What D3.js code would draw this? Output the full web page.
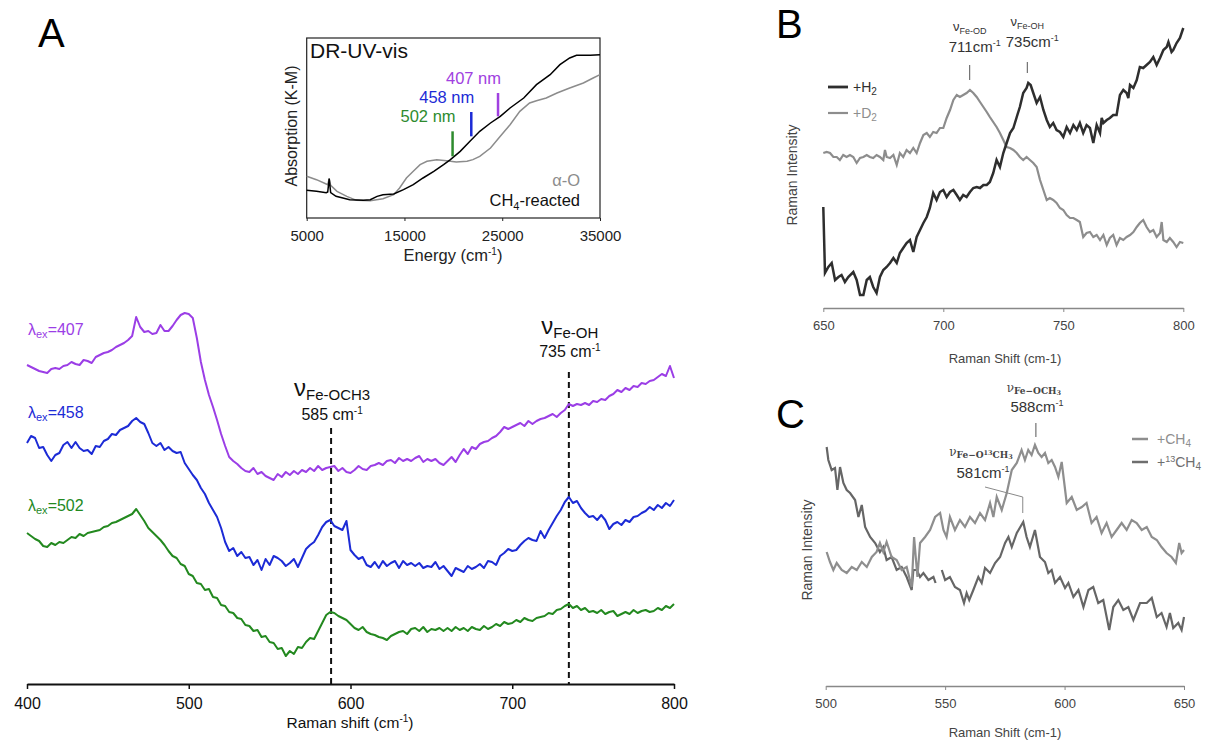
<!DOCTYPE html>
<html>
<head>
<meta charset="utf-8">
<script src="https://cdn.jsdelivr.net/npm/d3@7"></script>
<style>
  body { margin: 0; background: #fff; }
  svg { display: block; font-family: "Liberation Sans", Arial, sans-serif; }
</style>
</head>
<body>
<div id="chart"></div>
<script>
// ---- Panel A: Raman spectra, sampled every 2.5 cm-1 from 400 to 800 ----
const shiftStartA = 400;
const shiftStepA = 2.5;

const raman407 = [
  319,317,315,313,312,311,315,316,315,318,
  319,322,320,319,324,323,321,327,329,331,
  332,334,337,339,341,344,348,367,357,352,
  353,350,351,359,353,353,358,364,369,371,
  370,366,346,322,304,289,277,264,250,238,
  227,223,220,216,213,212,216,210,212,208,
  206,204,210,207,212,209,213,210,214,212,
  216,213,218,214,216,217,218,213,216,212,
  211,214,218,215,214,218,219,221,219,223,
  224,221,226,223,225,223,226,228,222,225,
  223,225,221,219,223,227,222,229,235,230,
  237,235,240,242,243,246,248,252,257,255,
  257,259,261,258,263,260,263,265,266,268,
  270,267,271,274,280,278,280,279,281,279,
  283,282,285,284,288,290,294,292,296,294,
  298,297,301,300,303,304,307,310,308,318,
  306
];

const raman458 = [
  241,248,246,236,237,229,223,229,231,239,
  242,236,242,236,233,234,230,238,237,243,
  245,250,249,254,256,258,263,266,262,260,
  251,241,238,241,234,237,233,231,232,221,
  215,209,204,196,190,181,174,167,156,142,
  133,136,128,132,126,127,119,124,114,125,
  119,128,126,123,118,121,125,117,126,135,
  139,142,149,157,162,164,158,156,154,163,
  134,129,125,127,119,117,122,116,123,118,
  121,123,116,123,119,121,118,121,116,118,
  117,122,115,118,113,108,116,114,112,118,
  115,117,120,116,123,122,119,128,131,135,
  133,134,139,143,146,144,143,153,146,154,
  161,168,174,182,187,181,183,176,171,167,
  168,164,169,164,155,160,162,159,164,162,
  167,168,171,173,177,174,179,176,181,178,
  184
];

const raman502 = [
  151,148,145,143,138,137,141,139,142,141,
  144,147,146,150,148,151,152,153,154,157,
  158,161,162,164,166,168,170,175,169,163,
  156,152,148,144,139,133,128,126,120,118,
  110,108,101,100,94,95,87,86,79,78,
  72,71,66,65,59,58,53,54,47,48,
  42,41,35,36,28,33,30,37,36,42,
  46,45,53,61,69,72,71,68,66,64,
  60,56,54,57,52,50,49,47,46,44,
  48,50,52,53,50,55,56,53,57,52,
  55,54,56,53,56,53,57,54,56,53,
  57,55,54,58,55,57,60,58,62,60,
  61,64,62,66,64,63,66,67,68,71,
  70,74,75,78,80,76,78,74,76,72,
  73,71,74,70,72,73,68,70,72,70,
  74,71,73,74,72,73,76,74,78,76,
  80
];

const excitationNames = ['407', '458', '502'];
const excitationColors = ['#9b3ee6', '#1c2bd6', '#23891f'];
const ticksA = [400, 500, 600, 700, 800];
const peakShiftsA = [588, 735];
const peakNamesA = ['Fe-OCH3', 'Fe-OH'];
const peakValuesA = ['585 cm', '735 cm'];

// ---- Inset: DR-UV-vis ----
const uvEnergyReacted = [5000, 6000, 7000, 7150, 7300, 7450, 8000, 9400, 10800, 11500,
  12200, 12800, 13900, 14900, 15900, 16900, 18000, 19000, 19700, 20700,
  21700, 22700, 23800, 24800, 25800, 27200, 28500, 29900, 30900, 31900,
  32600, 34000, 35000];
const uvAbsReacted = [83, 80, 76, 78, 118, 76, 65, 55, 53, 55,
  65, 70, 72, 85, 100, 120, 140, 160, 175, 200,
  230, 260, 285, 305, 330, 360, 400, 430, 460, 480,
  488, 488, 490];
const uvEnergyAlphaO = [5000, 6000, 7000, 7150, 7300, 7450, 8100, 9100, 10100, 11500,
  12800, 13900, 14500, 15200, 15900, 16600, 17300, 18300, 19300, 20300,
  21400, 22000, 22700, 23800, 24800, 25800, 26800, 27800, 28500, 29500,
  30600, 31900, 33300, 34300, 35000];
const uvAbsAlphaO = [125, 115, 102, 100, 118, 98, 80, 65, 53, 52,
  58, 70, 90, 120, 140, 160, 170, 175, 172, 168,
  170, 175, 185, 210, 245, 280, 320, 345, 352, 360,
  375, 390, 405, 420, 430];
const uvTicks = [5000, 15000, 25000, 35000];
const laserNm = [502, 458, 407];

// ---- Panel B: +H2 / +D2 ----
const ramanH2 = [[650,101],[650.7,35],[652.1,41],[653.5,45],[654.9,28],[656.3,31],[657.6,33],[659,26],[660.4,31],[662.5,36],
  [663.9,28],[665.3,13],[666.7,13],[668.1,28],[669.4,31],[670.8,21],[672.2,15],[673.6,31],[675,38],[676.4,41],
  [677.8,45],[679.2,50],[680.6,45],[681.9,55],[683.3,60],[684.7,65],[686.1,68],[687.5,56],[688.9,71],[690.3,78],
  [691.7,85],[693.1,91],[694.4,100],[695.8,115],[697.2,108],[698.6,116],[700,118],[701.4,111],[702.8,116],[704.2,118],
  [705.6,113],[706.9,108],[708.3,113],[709.7,111],[711.1,116],[712.5,120],[713.9,121],[715.3,120],[716.7,123],[718.1,123],
  [719.4,126],[720.8,135],[722.2,148],[723.6,141],[725,155],[726.4,165],[727.8,175],[729.2,180],[730.6,191],[731.9,201],
  [733.3,215],[734.7,220],[735.4,225],[736.4,223],[737.5,215],[738.9,205],[740.3,211],[741.7,198],[743.1,188],[744.4,181],
  [745.8,185],[747.2,178],[748.6,176],[750,171],[751.4,181],[752.8,175],[754.2,183],[755.6,178],[756.9,185],[758.3,175],
  [759.7,183],[761.1,180],[762.5,165],[763.9,183],[765.3,175],[766,190],[766.7,185],[768.1,188],[769.4,190],[770.8,193],
  [772.2,193],[773.6,213],[775,218],[776.4,215],[777.1,210],[777.8,223],[779.2,220],[780.6,228],[781.9,241],[783.3,240],
  [784.7,243],[786.1,246],[787.5,251],[788.9,243],[790.3,250],[791.7,258],[793.1,261],[793.8,266],[795.1,256],[795.8,258],
  [797.2,265],[798.6,270],[800,280]];
const ramanD2 = [[650,155],[651.4,156],[652.8,155],[654.2,151],[655.6,151],[656.9,148],[658.3,153],[659.7,151],[661.1,153],[662.5,151],
  [663.9,145],[665.3,150],[666.7,151],[668.1,153],[669.4,151],[670.8,150],[672.2,153],[673.6,151],[675,148],[675.7,158],
  [676.4,151],[677.8,150],[679.2,153],[680.6,143],[681.9,155],[683.3,151],[684.7,158],[686.1,155],[687.5,160],[688.9,155],
  [690.3,165],[691.7,173],[693.1,175],[694.4,171],[695.8,176],[697.2,175],[698.6,180],[700,180],[701.4,190],[702.8,198],
  [704.2,208],[705.6,213],[706.9,211],[708.3,213],[709.7,215],[711.1,218],[712.5,215],[713.9,211],[715.3,206],[716.7,201],
  [718.1,196],[719.4,191],[720.8,186],[722.2,181],[723.6,175],[725,168],[726.4,161],[727.8,160],[729.2,158],[730.6,155],
  [731.9,151],[733.3,148],[734.7,151],[736.1,148],[737.5,145],[738.9,141],[740.3,128],[741.7,118],[743.1,108],[744.4,110],
  [745.8,108],[747.2,105],[748.6,100],[750,98],[751.4,93],[752.8,90],[754.2,90],[755.6,88],[756.9,86],[758.3,71],
  [759.7,75],[761.1,76],[762.5,71],[763.9,73],[765.3,68],[766.7,73],[768.1,63],[769.4,70],[770.8,73],[772.2,63],
  [773.6,70],[775,68],[776.4,71],[777.8,73],[779.2,76],[780.6,81],[781.9,85],[783.3,88],[784.7,81],[786.1,76],
  [787.5,78],[788.9,71],[790.3,75],[791,86],[791.7,68],[793.1,66],[794.4,70],[795.8,66],[797.2,61],[798.6,66],
  [800,65]];
const ticksB = [650, 700, 750, 800];

// ---- Panel C: +CH4 / +13CH4 (null marks a break in the trace) ----
const ramanCH4 = [[500.4,134],[501.8,124],[503.2,116],[504.6,123],[506.7,116],[508.8,113],[510.9,119],[513,116],[515.1,124],[517.2,119],
  [519.3,129],[521.3,134],[522.7,143],[524.1,134],[525.5,144],[527.6,129],[529.7,126],[531.8,116],[533.9,119],[536,99],
  [537,149],[538.4,109],[539.5,143],[541.6,149],[543.7,156],[545.8,169],[547.9,173],[549.3,156],[550.6,149],[552,169],
  [554.1,156],[556.2,166],[558.3,159],[560.4,169],[562.5,163],[564.6,173],[566.7,166],[568.8,183],[570.2,169],[571.6,189],
  [573.7,176],[575.8,193],[577.9,216],[580,223],[582,236],[583.4,226],[584.8,236],[586.2,231],[587.6,241],[589,233],
  [590.4,229],[591.8,233],[593.2,223],[594.6,226],[596,219],[597.4,209],[598.8,224],[600.9,183],[603,189],[605.1,176],
  [607.2,179],[609.2,183],[611.3,163],[613.4,169],[615.5,153],[617.6,163],[619.7,149],[621.8,156],[623.9,163],[626,156],
  [628.1,166],[630.2,163],[632.3,156],[634.4,159],[636.5,149],[638.6,146],[640.6,139],[642.7,133],[644.8,129],[646.6,123],
  [648,143],[649,133],[650,136]];
const raman13CH4 = [[500.4,239],[501.1,226],[502.5,216],[503.9,218],[504.9,196],[506,219],[507.4,203],[508.8,196],[510.2,193],[512.3,186],
  [513.7,169],[515.1,181],[516.5,159],[518.6,149],[520.7,143],[522.7,134],[524.1,139],[525.5,126],[527.6,129],[529.7,116],
  [531.8,119],[533.9,109],[536,96],[536.7,116],[538.1,116],[539.5,109],[540.9,113],[543,106],[545.1,109],[546,103],
  [547,null],[548.6,116],[550,106],[552,109],[554.1,99],[556.2,96],[557.9,83],[559,93],[560.1,86],[561.8,96],
  [563.9,109],[565.3,103],[566.7,118],[568.8,113],[570.9,123],[573,129],[575.1,143],[576.5,149],[577.9,139],[580,153],
  [582.7,164],[584.1,149],[585.5,139],[587.6,156],[589.7,129],[591.8,124],[593.2,113],[594.6,116],[596,103],[598.1,109],
  [600.2,98],[601.6,103],[603.7,89],[605.8,96],[607.9,79],[610,96],[612,99],[614.1,83],[616.2,86],[618.7,56],
  [620.4,79],[622.5,86],[624.6,76],[626.7,79],[628.8,66],[631.6,83],[634.4,83],[636.5,88],[638.6,69],[640.6,73],
  [642.7,59],[644.1,73],[645.5,58],[647.6,63],[649,56],[650,69]];
const ticksC = [500, 550, 600, 650];

// ---------------------------------------------------------------
const svg = d3.select('#chart').append('svg')
  .attr('width', 1206)
  .attr('height', 740)
  .style('background', '#fff');

// text with mixed-size tspans (sub/superscripts)
function richText(g, x, y, parts, size, color, anchor) {
  const t = g.append('text')
    .attr('x', x).attr('y', y)
    .attr('text-anchor', anchor || 'start')
    .style('font-size', size + 'px')
    .style('fill', color || '#000');
  parts.forEach(p => {
    const s = t.append('tspan').text(p[0]);
    if (p[1]) s.style('font-size', p[1] + 'px');
    if (p[2]) s.attr('dy', p[2]);
    if (p[3]) s.style('font-weight', p[3]);
  });
  return t;
}

function panelLetter(x, y, letter) {
  svg.append('text').attr('x', x).attr('y', y)
    .style('font-size', '40px').style('fill', '#000').text(letter);
}

// ================= Panel A =================
panelLetter(38, 47, 'A');

const xA = d3.scaleLinear().domain([400, 800]).range([27, 674]);
const yA = d3.scaleLinear().domain([0, 400]).range([684, 284]);
const gA = svg.append('g');

const lineA = d3.line()
  .x((d, i) => xA(shiftStartA + i * shiftStepA))
  .y(d => yA(d));

// dashed peak markers
const dashTops = [428, 372];
peakShiftsA.forEach((s, i) => {
  gA.append('line')
    .attr('x1', xA(s)).attr('x2', xA(s))
    .attr('y1', dashTops[i]).attr('y2', yA(0))
    .attr('stroke', '#111').attr('stroke-width', 2)
    .attr('stroke-dasharray', '6,4');
});

[raman407, raman458, raman502].forEach((vals, i) => {
  gA.append('path')
    .datum(vals)
    .attr('fill', 'none')
    .attr('stroke', excitationColors[i])
    .attr('stroke-width', 2)
    .attr('stroke-linejoin', 'round')
    .attr('d', lineA);
});

// excitation labels
const exLabelY = [335, 418, 511];
excitationNames.forEach((n, i) => {
  richText(gA, 28, exLabelY[i], [['λ'], ['ex', 11, 3], ['=' + n, 16, -3]], 16, excitationColors[i]);
});

// peak annotations
const annoY = [[396, 420], [334, 357]];
peakShiftsA.forEach((s, i) => {
  richText(gA, xA(s) + 1, annoY[i][0], [['ν', 24], [peakNamesA[i], 15, 4]], 15, '#111', 'middle');
  richText(gA, xA(s) + 1, annoY[i][1], [[peakValuesA[i]], ['-1', 10, -6]], 16, '#111', 'middle');
});

// x axis
const axA = gA.append('g')
  .attr('transform', `translate(0,${yA(0)})`)
  .call(d3.axisBottom(xA).tickValues(ticksA).tickSize(5).tickSizeOuter(0).tickPadding(9));
axA.select('.domain').attr('stroke', '#111').attr('stroke-width', 2);
axA.selectAll('.tick line').attr('stroke', '#111').attr('stroke-width', 1.5);
axA.selectAll('.tick text').style('font-size', '16px').style('fill', '#111')
  .style('font-family', '"Liberation Sans", Arial, sans-serif');

richText(gA, 350, 728, [['Raman shift (cm'], ['-1', 10, -6], [')', 15.5, 6]], 15.5, '#111', 'middle');

// ================= Inset =================
const xI = d3.scaleLinear().domain([5000, 35000]).range([306.7, 600]);
const yI = d3.scaleLinear().domain([0, 540]).range([218, 38]);
const gI = svg.append('g');

gI.append('rect')
  .attr('x', xI(5000)).attr('y', yI(540))
  .attr('width', xI(35000) - xI(5000)).attr('height', yI(0) - yI(540))
  .attr('fill', 'none').attr('stroke', '#222').attr('stroke-width', 1.2);

const lineI = d3.line().x(d => xI(d[0])).y(d => yI(d[1]));
gI.append('path')
  .datum(uvEnergyAlphaO.map((e, i) => [e, uvAbsAlphaO[i]]))
  .attr('fill', 'none').attr('stroke', '#8c8c8c').attr('stroke-width', 1.5)
  .attr('d', lineI);
gI.append('path')
  .datum(uvEnergyReacted.map((e, i) => [e, uvAbsReacted[i]]))
  .attr('fill', 'none').attr('stroke', '#000').attr('stroke-width', 1.5)
  .attr('d', lineI);

// laser wavelength markers
const laserColors = ['#2e8b2e', '#1c2bd6', '#a040e0'];
const laserSpan = [[185, 260], [245, 318], [305, 375]];
laserNm.forEach((nm, i) => {
  const e = 1e7 / nm;
  gI.append('line')
    .attr('x1', xI(e)).attr('x2', xI(e))
    .attr('y1', yI(laserSpan[i][0])).attr('y2', yI(laserSpan[i][1]))
    .attr('stroke', laserColors[i]).attr('stroke-width', 2.5);
  gI.append('text')
    .attr('x', xI(e) + 3).attr('y', yI(laserSpan[i][1]) - 9)
    .attr('text-anchor', 'end')
    .style('font-size', '16.5px').style('fill', laserColors[i])
    .text(nm + ' nm');
});

gI.append('text').attr('x', 310).attr('y', 58)
  .style('font-size', '21px').style('fill', '#111').text('DR-UV-vis');
gI.append('text').attr('x', 580).attr('y', 186).attr('text-anchor', 'end')
  .style('font-size', '16.5px').style('fill', '#8c8c8c').text('α-O');
richText(gI, 580, 206, [['CH'], ['4', 11, 4], ['-reacted', 16.5, -4]], 16.5, '#111', 'end');

const axI = gI.append('g')
  .attr('transform', `translate(0,${yI(0)})`)
  .call(d3.axisBottom(xI).tickValues(uvTicks).tickSize(3).tickSizeOuter(0).tickPadding(9)
    .tickFormat(d3.format('d')));
axI.select('.domain').remove();
axI.selectAll('.tick line').attr('stroke', '#222');
axI.selectAll('.tick text').style('font-size', '15px').style('fill', '#222')
  .style('font-family', '"Liberation Sans", Arial, sans-serif');

richText(gI, 453, 261, [['Energy (cm'], ['-1', 10, -6], [')', 16.5, 6]], 16.5, '#222', 'middle');
gI.append('text')
  .attr('transform', 'translate(297,126) rotate(-90)')
  .attr('text-anchor', 'middle')
  .style('font-size', '16px').style('fill', '#222')
  .text('Absorption (K-M)');

// ================= Panel B =================
panelLetter(776, 38, 'B');
const xB = d3.scaleLinear().domain([650, 800]).range([823.3, 1183.3]);
const yB = d3.scaleLinear().domain([0, 300]).range([308, 8]);
const gB = svg.append('g');
const lineB = d3.line().x(d => xB(d[0])).y(d => yB(d[1]));

gB.append('path').datum(ramanD2)
  .attr('fill', 'none').attr('stroke', '#8d8d8d').attr('stroke-width', 2.2)
  .attr('d', lineB);
gB.append('path').datum(ramanH2)
  .attr('fill', 'none').attr('stroke', '#2e2e2e').attr('stroke-width', 2.5)
  .attr('d', lineB);

const axB = gB.append('g')
  .attr('transform', `translate(0,${yB(0)})`)
  .call(d3.axisBottom(xB).tickValues(ticksB).tickSize(4).tickSizeOuter(0).tickPadding(9));
axB.select('.domain').attr('stroke', '#888').attr('stroke-width', 1.5);
axB.selectAll('.tick line').attr('stroke', '#888');
axB.selectAll('.tick text').style('font-size', '13px').style('fill', '#444')
  .style('font-family', '"Liberation Sans", Arial, sans-serif');

gB.append('text').attr('x', 1005).attr('y', 363).attr('text-anchor', 'middle')
  .style('font-size', '13px').style('fill', '#444').text('Raman Shift (cm-1)');
gB.append('text').attr('transform', 'translate(797,175) rotate(-90)')
  .attr('text-anchor', 'middle')
  .style('font-size', '14px').style('fill', '#444').text('Raman Intensity');

// legend
[['H', '#2e2e2e', 2.8], ['D', '#8d8d8d', 2.2]].forEach((l, i) => {
  const y = 87 + i * 26;
  gB.append('line').attr('x1', 828).attr('x2', 848).attr('y1', y).attr('y2', y)
    .attr('stroke', l[1]).attr('stroke-width', l[2]);
  richText(gB, 853, y + 5, [['+' + l[0]], ['2', 10, 3]], 14, l[1]);
});

// peak annotations
const peaksB = [[711, 'Fe-OD', 31, 52, 65, 80], [735, 'Fe-OH', 26, 47, 62, 73]];
peaksB.forEach(p => {
  richText(gB, xB(p[0]), p[2], [['ν', 13], [p[1], 9, 3]], 13, '#333', 'middle');
  richText(gB, xB(p[0]) + 5, p[3], [[String(p[0]) + 'cm'], ['-1', 9, -6]], 15, '#333', 'middle');
  gB.append('line').attr('x1', xB(p[0])).attr('x2', xB(p[0]))
    .attr('y1', p[4]).attr('y2', p[5]).attr('stroke', '#555').attr('stroke-width', 1);
});

// ================= Panel C =================
panelLetter(776, 428, 'C');
const xC = d3.scaleLinear().domain([500, 650]).range([825.7, 1184]);
const yC = d3.scaleLinear().domain([0, 300]).range([686, 386]);
const gC = svg.append('g');
const lineC = d3.line().defined(d => d[1] !== null).x(d => xC(d[0])).y(d => yC(d[1]));

gC.append('path').datum(raman13CH4)
  .attr('fill', 'none').attr('stroke', '#666').attr('stroke-width', 2.2)
  .attr('d', lineC);
gC.append('path').datum(ramanCH4)
  .attr('fill', 'none').attr('stroke', '#8e8e8e').attr('stroke-width', 2.2)
  .attr('d', lineC);

const axC = gC.append('g')
  .attr('transform', `translate(0,${yC(0)})`)
  .call(d3.axisBottom(xC).tickValues(ticksC).tickSize(4).tickSizeOuter(0).tickPadding(9));
axC.select('.domain').attr('stroke', '#888').attr('stroke-width', 1.5);
axC.selectAll('.tick line').attr('stroke', '#888');
axC.selectAll('.tick text').style('font-size', '13px').style('fill', '#444')
  .style('font-family', '"Liberation Sans", Arial, sans-serif');

gC.append('text').attr('x', 1005).attr('y', 737).attr('text-anchor', 'middle')
  .style('font-size', '13px').style('fill', '#444').text('Raman Shift (cm-1)');
gC.append('text').attr('transform', 'translate(812,550) rotate(-90)')
  .attr('text-anchor', 'middle')
  .style('font-size', '14px').style('fill', '#444').text('Raman Intensity');

// legend
[['+CH', '4', '#8e8e8e'], ['+', '13', '#6e6e6e']].forEach((l, i) => {
  const y = 439 + i * 23;
  gC.append('line').attr('x1', 1132).attr('x2', 1148).attr('y1', y).attr('y2', y)
    .attr('stroke', l[2]).attr('stroke-width', 2.5);
  if (i === 0) {
    richText(gC, 1157, y + 5, [[l[0]], [l[1], 10, 3]], 14, l[2]);
  } else {
    richText(gC, 1157, y + 5, [['+'], ['13', 9, -5], ['CH', 14, 5], ['4', 10, 3]], 14, l[2]);
  }
});

// peak annotations (serif labels as in the source)
const serif = '"DejaVu Serif", "Liberation Serif", serif';
richText(gC, xC(588) - 2, 392, [['ν', 12], ['Fe−OCH', 9, 2, 'bold'], ['3', 6.5, 1, 'bold']], 12, '#444', 'middle')
  .style('font-family', serif);
richText(gC, xC(588) + 1, 412, [['588cm'], ['-1', 9, -6]], 15, '#333', 'middle');
gC.append('line').attr('x1', xC(588)).attr('x2', xC(588)).attr('y1', 423).attr('y2', 437)
  .attr('stroke', '#555').attr('stroke-width', 1);

richText(gC, 981, 456, [['ν', 12], ['Fe−O', 9, 2, 'bold'], ['13', 6.5, -3, 'bold'], ['CH', 9, 3, 'bold'], ['3', 6.5, 1, 'bold']], 12, '#444', 'middle')
  .style('font-family', serif);
richText(gC, 983, 478, [['581cm'], ['-1', 9, -6]], 15, '#333', 'middle');
gC.append('polyline')
  .attr('points', `985,487 ${xC(582.5)},497 ${xC(582.5)},513`)
  .attr('fill', 'none').attr('stroke', '#888').attr('stroke-width', 1);
</script>
</body>
</html>
